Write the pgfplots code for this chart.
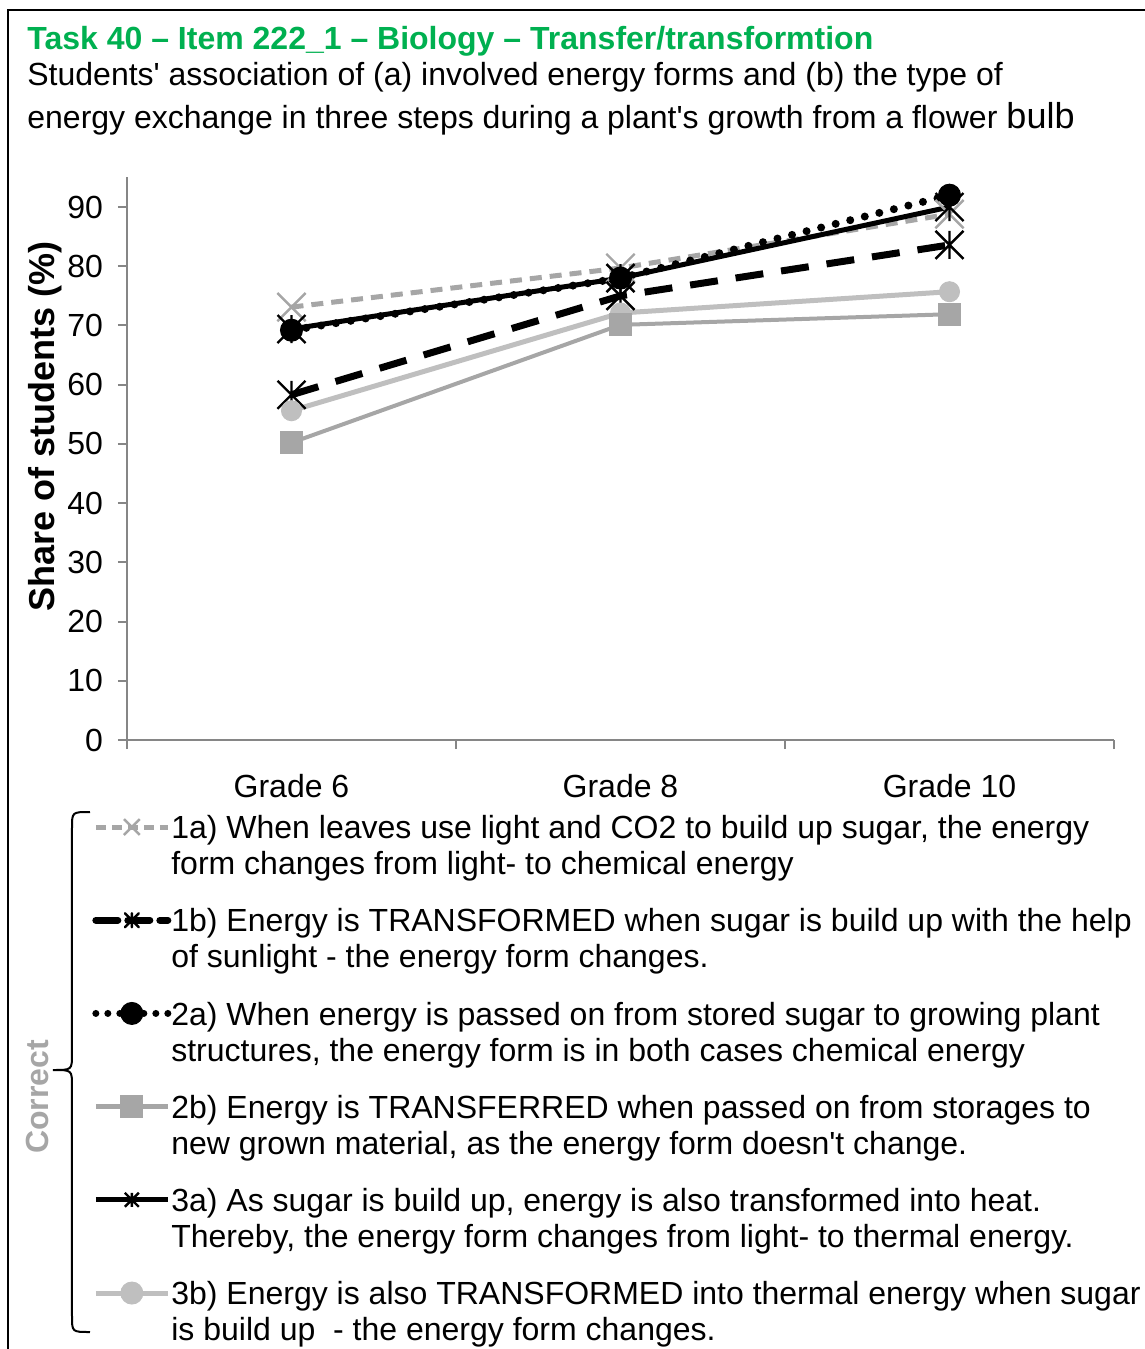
\documentclass[border=0pt]{standalone}
\usepackage{pgfplots}
\pgfplotsset{compat=1.18}
\usepackage{fontspec}
\setmainfont{Liberation Sans}

\definecolor{gA}{RGB}{166,166,166}
\definecolor{gB}{RGB}{191,191,191}
\definecolor{axgray}{RGB}{134,134,134}
\definecolor{titlegreen}{RGB}{0,176,80}

% Excel "star" marker: an x with a vertical bar
\pgfdeclareplotmark{xstar}{%
  \pgfpathmoveto{\pgfqpoint{-\pgfplotmarksize}{-\pgfplotmarksize}}%
  \pgfpathlineto{\pgfqpoint{\pgfplotmarksize}{\pgfplotmarksize}}%
  \pgfpathmoveto{\pgfqpoint{-\pgfplotmarksize}{\pgfplotmarksize}}%
  \pgfpathlineto{\pgfqpoint{\pgfplotmarksize}{-\pgfplotmarksize}}%
  \pgfpathmoveto{\pgfqpoint{0pt}{-\pgfplotmarksize}}%
  \pgfpathlineto{\pgfqpoint{0pt}{\pgfplotmarksize}}%
  \pgfusepathqstroke}

\begin{document}
\begin{tikzpicture}
\begin{axis}[
  at={(0pt,0pt)}, anchor=south west,
  scale only axis, width=493.5pt, height=281.3pt,
  xmin=-0.5, xmax=2.5, ymin=0, ymax=95,
  axis x line*=bottom, axis y line*=left,
  axis line style={axgray, line width=1pt},
  tick style={axgray, line width=1pt},
  tick align=outside, major tick length=4.5pt,
  xtick={-0.5,0.5,1.5,2.5}, xticklabels={},
  extra x ticks={0,1,2},
  extra x tick labels={Grade 6,Grade 8,Grade 10},
  extra x tick style={major tick length=0pt,
    xticklabel style={anchor=base, yshift=-28.5pt}},
  ytick={0,10,...,90},
  yticklabel style={anchor=east, xshift=-4pt},
  ticklabel style={font=\fontsize{16}{18}\selectfont},
  /pgf/number format/assume math mode=true,
  ylabel={Share of students (\%)},
  ylabel style={font=\bfseries\fontsize{18}{20}\selectfont,
    at={(axis description cs:-0.083,0.558)}, anchor=center},
  clip=false,
  legend style={draw=none, fill=none, inner sep=0pt,
    at={(-0.0355,-0.1298)}, anchor=north west,
    font=\fontsize{16}{18}\selectfont,
    row sep=14.5pt, column sep=0pt,
    cells={align=left, anchor=north west},
    nodes={inner sep=0pt, yshift=7pt}},
  legend image code/.code={%
    \draw[mark repeat=2,mark phase=2,#1]
      plot coordinates {(0pt,0pt) (18pt,0pt) (36pt,0pt)};},
]
% data (share of students in %)
\addplot[forget plot, gA, line width=2.5pt, dash pattern=on 6pt off 4pt,
  mark=x, mark size=10pt, mark options={solid, line width=1.2pt}]
  coordinates {(0,73.1) (1,79.7) (2,88.8)};
\addplot[forget plot, black, line width=3.5pt, dash pattern=on 14pt off 9pt,
  mark=xstar, mark size=7pt, mark options={solid, line width=1.2pt}]
  coordinates {(0,58.3) (1,75.0) (2,83.6)};
\addplot[forget plot, gB, line width=2.5pt,
  mark=*, mark size=5pt, mark options={solid, line width=0.5pt}]
  coordinates {(0,55.6) (1,72.1) (2,75.7)};
\addplot[forget plot, gA, line width=2pt,
  mark=square*, mark size=5.5pt, mark options={solid, line width=0.5pt}]
  coordinates {(0,50.2) (1,70.1) (2,71.9)};
\addplot[forget plot, black, line width=2.5pt,
  mark=xstar, mark size=7pt, mark options={solid, line width=1.2pt}]
  coordinates {(0,69.4) (1,78.0) (2,90.0)};
\addplot[forget plot, black, line width=4pt, line cap=round,
  dash pattern=on 0pt off 7.5pt,
  mark=*, mark size=5.5pt, mark options={solid, line width=0.5pt}]
  coordinates {(0,69.2) (1,78.0) (2,92.0)};

% legend
\addlegendimage{gA, line width=2.5pt, dash pattern=on 5pt off 3pt,
  mark=x, mark size=5.6pt, mark options={solid, line width=1.2pt}}
\addlegendentry{\strut 1a) When leaves use light and CO2 to build up sugar, the energy\\\strut form changes from light- to chemical energy}
\addlegendimage{black, line width=3.5pt, line cap=round, dash pattern=on 11pt off 5pt,
  mark=xstar, mark size=3.5pt, mark options={solid, line width=1.2pt}}
\addlegendentry{\strut 1b) Energy is TRANSFORMED when sugar is build up with the help\\\strut of sunlight - the energy form changes.}
\addlegendimage{black, line width=3.5pt, line cap=round, dash pattern=on 0pt off 6pt,
  mark=*, mark size=5.5pt, mark options={solid, line width=0.5pt}}
\addlegendentry{\strut 2a) When energy is passed on from stored sugar to growing plant\\\strut structures, the energy form is in both cases chemical energy}
\addlegendimage{gA, line width=2.5pt,
  mark=square*, mark size=5.5pt, mark options={solid, line width=0.5pt}}
\addlegendentry{\strut 2b) Energy is TRANSFERRED when passed on from storages to\\\strut new grown material, as the energy form doesn\textquotesingle t change.}
\addlegendimage{black, line width=2.5pt,
  mark=xstar, mark size=3.5pt, mark options={solid, line width=1.2pt}}
\addlegendentry{\strut 3a) As sugar is build up, energy is also transformed into heat.\\\strut Thereby, the energy form changes from light- to thermal energy.}
\addlegendimage{gB, line width=2.5pt,
  mark=*, mark size=5.5pt, mark options={solid, line width=0.5pt}}
\addlegendentry{\strut 3b) Energy is also TRANSFORMED into thermal energy when sugar\\\strut is build up\ \ - the energy form changes.}
\end{axis}

% titles
\node[anchor=base west, inner sep=0pt, text=titlegreen,
  font=\bfseries\fontsize{16}{18}\selectfont] at (-50pt,345pt)
  {Task 40 – Item 222\_1 – Biology – Transfer/transformtion};
\node[anchor=base west, inner sep=0pt, font=\fontsize{16}{18}\selectfont]
  at (-50pt,327pt)
  {Students\textquotesingle\ association of (a) involved energy forms and (b) the type of};
\node[anchor=base west, inner sep=0pt, font=\fontsize{16}{18}\selectfont]
  at (-50pt,305.5pt)
  {energy exchange in three steps during a plant\textquotesingle s growth from a flower {\fontsize{18}{20}\selectfont bulb}};

% bracket + "Correct"
\draw[line width=1pt] (-18.5pt,-36pt) .. controls (-27.5pt,-36pt) .. (-27.5pt,-44pt)
  -- (-27.5pt,-157pt) .. controls (-27.5pt,-165pt) .. (-37pt,-165pt)
  .. controls (-27.5pt,-165pt) .. (-27.5pt,-173pt)
  -- (-27.5pt,-288pt) .. controls (-27.5pt,-296pt) .. (-18.5pt,-296pt);
\node[rotate=90, text=gA, font=\bfseries\fontsize{16}{18}\selectfont]
  at (-45pt,-178.5pt) {Correct};

% frame
\draw[line width=0.75pt] (-59.5pt,-320pt) -- (-59.5pt,365pt) -- (520pt,365pt);

\pgfresetboundingbox
\path[use as bounding box] (-63.5pt,-304.5pt) rectangle (509pt,370pt);
\end{tikzpicture}
\end{document}
